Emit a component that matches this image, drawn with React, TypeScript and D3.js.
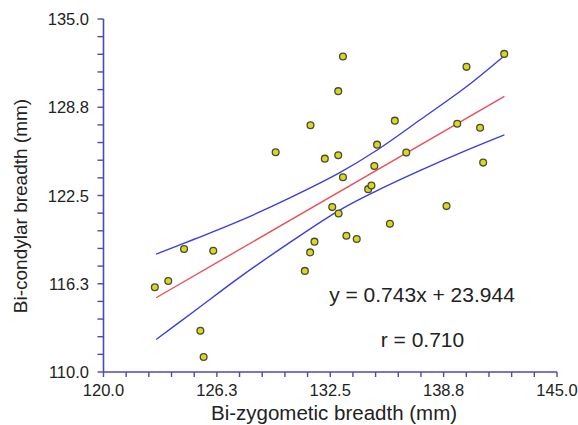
import React from "react";
import * as d3 from "d3";

const xValues = [122.83, 123.57, 124.44, 126.05, 125.34, 125.52, 129.49, 131.41, 131.10, 131.39, 131.63, 132.20, 132.94, 132.94, 133.20, 133.20, 132.61, 132.96, 133.39, 133.96, 134.59, 134.77, 134.93, 135.08, 136.06, 136.69, 135.79, 138.91, 139.50, 140.01, 140.76, 140.93, 142.09];
const yValues = [116.0, 116.45, 118.71, 118.59, 112.92, 111.06, 125.56, 127.47, 117.16, 118.47, 119.23, 125.11, 125.35, 129.89, 132.34, 123.79, 121.68, 121.23, 119.65, 119.42, 122.95, 123.21, 124.59, 126.10, 127.80, 125.54, 120.50, 121.75, 127.58, 131.61, 127.30, 124.83, 132.53];

const bandX = [122.9, 125.0, 127.5, 130.3, 133.0, 135.0, 137.5, 140.0, 142.1];
const upperBand = [118.35, 119.4, 120.7, 122.35, 124.1, 125.65, 127.9, 130.2, 132.4];
const lowerBand = [112.3, 114.3, 116.7, 119.2, 121.45, 122.8, 124.3, 125.7, 126.8];

const fitSlope = 0.743;
const fitIntercept = 23.944;
const fitRange = [122.9, 142.1];

const xTickValues = d3.range(0, 21).map((i) => 120 + i * 1.25);
const yTickValues = d3.range(0, 21).map((i) => 110 + i * 1.25);
const xTickLabels = ["120.0", "126.3", "132.5", "138.8", "145.0"];
const yTickLabels = ["110.0", "116.3", "122.5", "128.8", "135.0"];

const equationText = "y = 0.743x + 23.944";
const rText = "r = 0.710";
const xTitle = "Bi-zygometic breadth (mm)";
const yTitle = "Bi-condylar breadth (mm)";

const FONT = "'Liberation Sans', Arial, Helvetica, sans-serif";
const AXIS = "#4a4ab4";
const BLUE = "#3c3ce6";
const RED = "#e8505a";

export default function App() {
  const x = d3.scaleLinear().domain([120, 145]).range([103.5, 557]);
  const y = d3.scaleLinear().domain([110, 135]).range([372, 19]);

  const line = d3
    .line<[number, number]>()
    .x((d) => x(d[0]))
    .y((d) => y(d[1]))
    .curve(d3.curveCatmullRom);

  const upper = line(bandX.map((v, i) => [v, upperBand[i]] as [number, number])) || "";
  const lower = line(bandX.map((v, i) => [v, lowerBand[i]] as [number, number])) || "";
  const fit =
    d3
      .line<[number, number]>()
      .x((d) => x(d[0]))
      .y((d) => y(d[1]))(fitRange.map((v) => [v, fitSlope * v + fitIntercept] as [number, number])) || "";

  return (
    <svg
      width={578}
      height={425}
      style={{ position: "absolute", left: 0, top: 0, background: "#fff" }}
      fontFamily={FONT}
    >
      {/* axes */}
      <line x1={x(120)} x2={x(145)} y1={y(110)} y2={y(110)} stroke={AXIS} strokeWidth={1.6} />
      <line x1={x(120)} x2={x(120)} y1={y(110)} y2={y(135)} stroke={AXIS} strokeWidth={1.6} />
      {xTickValues.map((t, i) => (
        <line key={"xt" + i} x1={x(t)} x2={x(t)} y1={y(110)} y2={y(110) + 5} stroke={AXIS} strokeWidth={1.4} />
      ))}
      {yTickValues.map((t, i) => (
        <line key={"yt" + i} x1={x(120) - 6} x2={x(120)} y1={y(t)} y2={y(t)} stroke={AXIS} strokeWidth={1.4} />
      ))}
      {xTickLabels.map((lab, i) => (
        <text key={"xl" + i} x={x(120 + i * 6.25)} y={396} textAnchor="middle" fontSize={16.5} fill="#222">
          {lab}
        </text>
      ))}
      {yTickLabels.map((lab, i) => (
        <text key={"yl" + i} x={89} y={y(110 + i * 6.25) + 6} textAnchor="end" fontSize={16.5} fill="#222">
          {lab}
        </text>
      ))}
      <text x={334} y={420} textAnchor="middle" fontSize={20.5} fill="#222">
        {xTitle}
      </text>
      <text transform="translate(27,206) rotate(-90)" textAnchor="middle" fontSize={19} fill="#222">
        {yTitle}
      </text>

      {/* lines */}
      <path d={upper} fill="none" stroke={BLUE} strokeWidth={1.4} />
      <path d={lower} fill="none" stroke={BLUE} strokeWidth={1.4} />
      <path d={fit} fill="none" stroke={RED} strokeWidth={1.4} />

      {/* points */}
      {xValues.map((v, i) => (
        <circle key={"p" + i} cx={x(v)} cy={y(yValues[i])} r={3.4} fill="#d8d81c" stroke="#4a4a3a" strokeWidth={1.3} />
      ))}

      <text x={422} y={302} textAnchor="middle" fontSize={21} fill="#222">
        {equationText}
      </text>
      <text x={422.5} y={346.5} textAnchor="middle" fontSize={21} fill="#222">
        {rText}
      </text>
    </svg>
  );
}
